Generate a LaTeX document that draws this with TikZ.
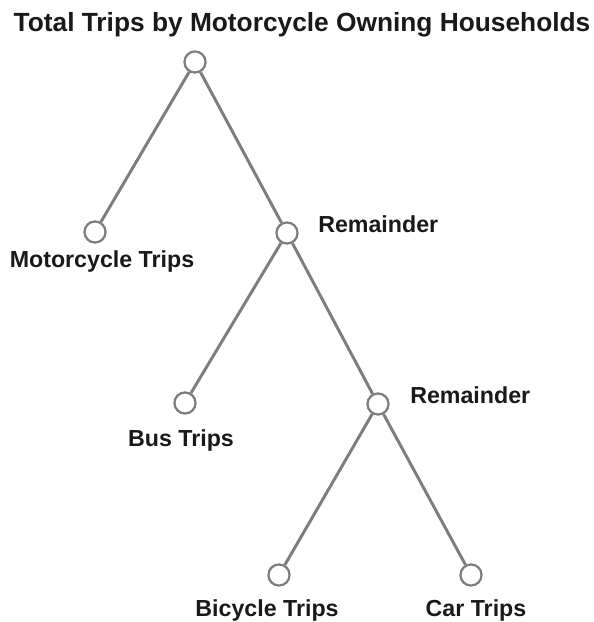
\documentclass[tikz,border=0pt]{standalone}
\usepackage{fontspec}
\setmainfont{Liberation Sans}
\usepackage{tikz}
\definecolor{treegray}{RGB}{125,125,125}
\definecolor{textdark}{RGB}{25,25,25}

\tikzset{
	knot/.style = {circle, draw = treegray, fill = white, line width = 1.6pt, minimum size = 15pt, inner sep = 0pt},
	branch/.style = {draw = treegray, line width = 2.1pt},
	lbl/.style = {text = textdark, font = \bfseries\fontsize{16.5}{19}\selectfont, inner sep = 0pt}
}

\begin{document}
\begin{tikzpicture}[x = 0.025cm, y = -0.025cm]
		\useasboundingbox (0,0) rectangle (593,622);
		\node[lbl, font = \bfseries\fontsize{18.7}{21}\selectfont] (title) at (302, 25) {Total Trips by Motorcycle Owning Households};
		\node[knot] (root) at (195, 62) {};
		\node[knot] (moto) at (95, 232) {};
		\node[knot] (rem1) at (287, 233) {};
		\node[knot] (bus) at (185, 403) {};
		\node[knot] (rem2) at (378, 404) {};
		\node[knot] (bike) at (279, 575) {};
		\node[knot] (car) at (471, 575) {};
		\draw[branch] (root) -- (moto);
		\draw[branch] (root) -- (rem1);
		\draw[branch] (rem1) -- (bus);
		\draw[branch] (rem1) -- (rem2);
		\draw[branch] (rem2) -- (bike);
		\draw[branch] (rem2) -- (car);
		\node[lbl, anchor = west] (rem1txt) at (318, 224) {Remainder};
		\node[lbl, anchor = west] (rem2txt) at (410, 395) {Remainder};
		\node[lbl] (mototxt) at (102, 262) {Motorcycle Trips};
		\node[lbl] (bustxt) at (181, 440) {Bus Trips};
		\node[lbl] (biketxt) at (267, 610) {Bicycle Trips};
		\node[lbl] (cartxt) at (476, 610) {Car Trips};
	\end{tikzpicture}
\end{document}
